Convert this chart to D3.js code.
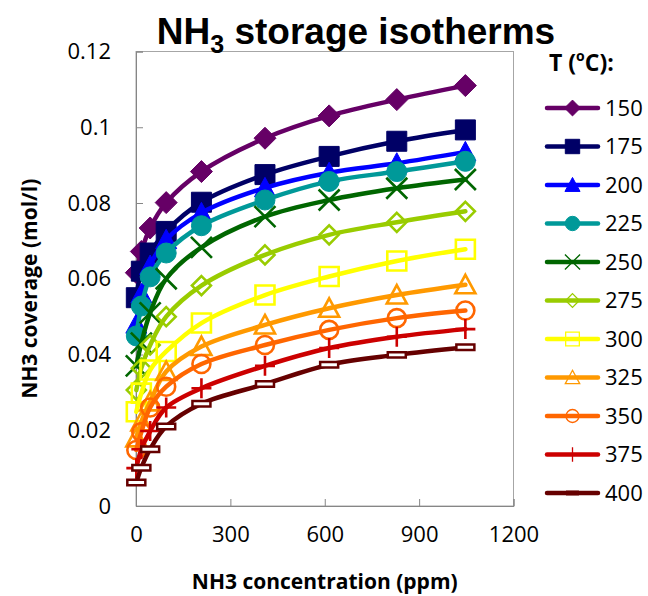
<!DOCTYPE html>
<html lang="en">
<head>
<meta charset="utf-8">
<style>
body { margin: 0; background: #fff; }
text { font-family: "Open Sans", sans-serif; fill: #000; }
</style>
<title>NH3 storage isotherms</title>
<script src="https://cdn.jsdelivr.net/npm/d3@7"></script>
</head>
<body>
<script>

// NH3 concentration (ppm), shared by all isotherms
var ppm = [1, 17, 45, 96, 208, 410, 614, 829, 1047];

var temps = ["150", "175", "200", "225", "250", "275", "300", "325", "350", "375", "400"];

// coverage (mol/l) per temperature
var cov150 = [0.0616, 0.0672, 0.0734, 0.0801, 0.0883, 0.0971, 0.1030, 0.1073, 0.1110];
var cov175 = [0.0550, 0.0620, 0.0668, 0.0725, 0.0802, 0.0875, 0.0923, 0.0963, 0.0993];
var cov200 = [0.0480, 0.0560, 0.0635, 0.0703, 0.0774, 0.0840, 0.0880, 0.0905, 0.0935];
var cov225 = [0.0449, 0.0528, 0.0605, 0.0668, 0.0740, 0.0808, 0.0857, 0.0883, 0.0910];
var cov250 = [0.0370, 0.0430, 0.0510, 0.0600, 0.0683, 0.0764, 0.0808, 0.0839, 0.0862];
var cov275 = [0.0306, 0.0364, 0.0425, 0.0500, 0.0582, 0.0663, 0.0716, 0.0749, 0.0778];
var cov300 = [0.0249, 0.0298, 0.0359, 0.0408, 0.0483, 0.0557, 0.0606, 0.0647, 0.0678];
var cov325 = [0.0180, 0.0222, 0.0275, 0.0355, 0.0421, 0.0478, 0.0522, 0.0557, 0.0584];
var cov350 = [0.0148, 0.0195, 0.0260, 0.0315, 0.0375, 0.0425, 0.0465, 0.0496, 0.0516];
var cov375 = [0.0100, 0.0150, 0.0198, 0.0260, 0.0311, 0.0370, 0.0417, 0.0447, 0.0467];
var cov400 = [0.0062, 0.0101, 0.0150, 0.0210, 0.0270, 0.0322, 0.0373, 0.0399, 0.0419];

var xTicks = [0, 300, 600, 900, 1200];
var yTicks = [0, 0.02, 0.04, 0.06, 0.08, 0.1, 0.12];

var allCov = [cov150, cov175, cov200, cov225, cov250, cov275, cov300, cov325, cov350, cov375, cov400];

// look of each series
var colors = ["#660066", "#000066", "#0000ff", "#009999", "#006600", "#99cc00",
              "#ffff00", "#ff9900", "#ff6600", "#cc0000", "#660000"];
var shapes = ["diamond", "square", "triangle", "circle", "x", "odiamond",
              "osquare", "otriangle", "ocircle", "plus", "dash"];

var width = 648, height = 596;

var svg = d3.select("body").append("svg")
    .attr("width", width)
    .attr("height", height);

var x = d3.scaleLinear().domain([0, 1200]).range([136, 513.5]);
var y = d3.scaleLinear().domain([0, 0.12]).range([506, 51.5]);

// plot frame
svg.append("rect")
    .attr("x", x(0)).attr("y", y(0.12))
    .attr("width", x(1200) - x(0)).attr("height", y(0) - y(0.12))
    .attr("fill", "none").attr("stroke", "#a6a6a6").attr("stroke-width", 1);

// axes with inside ticks
var xAxis = svg.append("g")
    .attr("transform", "translate(0," + y(0) + ")")
    .call(d3.axisBottom(x).tickValues(xTicks).tickSize(-7).tickPadding(20).tickFormat(d3.format("d")));
var yAxis = svg.append("g")
    .attr("transform", "translate(" + x(0) + ",0)")
    .call(d3.axisLeft(y).tickValues(yTicks).tickSize(-7).tickPadding(25).tickFormat(function(d){ return String(+d.toFixed(2)); }));

[xAxis, yAxis].forEach(function(a) {
  a.select(".domain").attr("stroke", "#868686");
  a.selectAll(".tick line").attr("stroke", "#868686");
  a.selectAll(".tick text")
    .style("font-family", "'Open Sans', sans-serif")
    .style("font-size", "22px")
    .attr("fill", "#000");
});

// axis titles
svg.append("text")
    .attr("x", (x(0) + x(1200)) / 2).attr("y", 589)
    .attr("text-anchor", "middle")
    .style("font-size", "21px").style("font-weight", "bold")
    .text("NH3 concentration (ppm)");

svg.append("text")
    .attr("transform", "translate(37," + ((y(0) + y(0.12)) / 2 + 10) + ") rotate(-90)")
    .attr("text-anchor", "middle")
    .style("font-size", "21px").style("font-weight", "bold")
    .text("NH3 coverage (mol/l)");

// chart title
var title = svg.append("text")
    .attr("x", 356).attr("y", 44)
    .attr("text-anchor", "middle")
    .style("font-family", "'Liberation Sans', Arial, sans-serif")
    .style("font-weight", "bold")
    .style("font-size", "37px");
title.append("tspan").text("NH");
title.append("tspan").attr("dy", 9).style("font-size", "25px").text("3");
title.append("tspan").attr("dy", -9).text(" storage isotherms");

function markerPath(kind, s) {
  switch (kind) {
    case "diamond": case "odiamond":
      return "M0," + (-s) + "L" + s + ",0L0," + s + "L" + (-s) + ",0Z";
    case "square": case "osquare":
      return "M" + (-s) + "," + (-s) + "H" + s + "V" + s + "H" + (-s) + "Z";
    case "triangle": case "otriangle":
      return "M0," + (-s) + "L" + s + "," + (s * 0.85) + "H" + (-s) + "Z";
    case "circle": case "ocircle":
      return "M" + s + ",0A" + s + "," + s + " 0 1,1 " + (-s) + ",0A" + s + "," + s + " 0 1,1 " + s + ",0Z";
    case "x":
      return "M" + (-s) + "," + (-s) + "L" + s + "," + s + "M" + s + "," + (-s) + "L" + (-s) + "," + s;
    case "plus":
      return "M0," + (-s) + "V" + s + "M" + (-s) + ",0H" + s;
    case "dash":
      return "M" + (-s) + "," + (-s * 0.3) + "H" + s + "V" + (s * 0.3) + "H" + (-s) + "Z";
  }
}

function markerStyle(sel, kind, color, legend) {
  var open = kind.charAt(0) === "o" || kind === "x" || kind === "plus";
  if (kind === "dash") {
    sel.attr("fill", legend ? color : "#fff").attr("stroke", color).attr("stroke-width", legend ? 1 : 2.5);
  } else if (open) {
    sel.attr("fill", "none").attr("stroke", color).attr("stroke-width", legend ? 1.3 : 2.6);
  } else {
    sel.attr("fill", color).attr("stroke", color).attr("stroke-width", 1);
  }
}

var sizes = { diamond: 11, square: 10, triangle: 10.5, circle: 10, x: 10.5, odiamond: 9.5,
              osquare: 9.5, otriangle: 10, ocircle: 9, plus: 10, dash: 9 };

var line = d3.line()
    .x(function(d){ return x(d[0]); })
    .y(function(d){ return y(d[1]); })
    .curve(d3.curveCatmullRom.alpha(0.5));

var plot = svg.append("g");

allCov.forEach(function(cov, i) {
  var pts = ppm.map(function(p, j){ return [p, cov[j]]; });
  var g = plot.append("g");
  g.append("path")
      .attr("d", line(pts))
      .attr("fill", "none")
      .attr("stroke", colors[i])
      .attr("stroke-width", 4.5)
      .attr("stroke-linejoin", "round")
      .attr("stroke-linecap", "round");
  g.selectAll("path.m")
      .data(pts)
      .enter().append("path")
      .attr("class", "m")
      .attr("transform", function(d){ return "translate(" + x(d[0]) + "," + y(d[1]) + ")"; })
      .attr("d", markerPath(shapes[i], sizes[shapes[i]]))
      .call(markerStyle, shapes[i], colors[i], false);
});

// legend
var legTitle = svg.append("text")
    .attr("x", 549).attr("y", 71)
    .style("font-size", "23px").style("font-weight", "bold");
legTitle.append("tspan").text("T (");
legTitle.append("tspan").attr("dy", -10).style("font-size", "14px").text("o");
legTitle.append("tspan").attr("dy", 10).text("C):");

var leg = svg.append("g").selectAll("g")
    .data(temps)
    .enter().append("g")
    .attr("transform", function(d, i){ return "translate(0," + (108 + i * 38.5) + ")"; });

leg.append("line")
    .attr("x1", 547).attr("x2", 598)
    .attr("stroke", function(d, i){ return colors[i]; })
    .attr("stroke-width", 4.5)
    .attr("stroke-linecap", "round");

leg.append("path")
    .attr("transform", "translate(572.5,0)")
    .attr("d", function(d, i){ return markerPath(shapes[i], sizes[shapes[i]] * 0.72); })
    .each(function(d, i){ d3.select(this).call(markerStyle, shapes[i], colors[i], true); });

leg.append("text")
    .attr("x", 605).attr("dy", "0.35em")
    .style("font-size", "22px")
    .text(function(d){ return d; });

</script>
</body>
</html>
